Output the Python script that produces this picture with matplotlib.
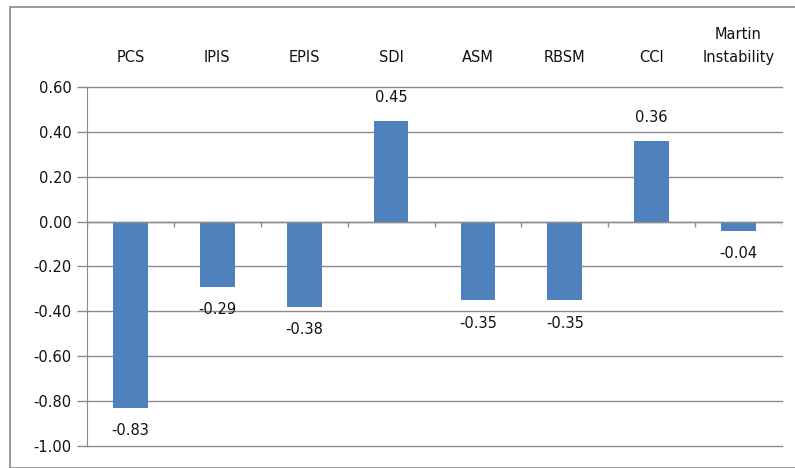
import matplotlib.pyplot as plt
from matplotlib.patches import Rectangle
import numpy as np

# metric names and their correlation values
categories = ['PCS', 'IPIS', 'EPIS', 'SDI', 'ASM', 'RBSM', 'CCI', 'Martin\nInstability']
values = [-0.83, -0.29, -0.38, 0.45, -0.35, -0.35, 0.36, -0.04]
yticks = [0.60, 0.40, 0.20, 0.00, -0.20, -0.40, -0.60, -0.80, -1.00]

plt.rcParams['font.family'] = ['DejaVu Sans']
grid_col = '#8c8c8c'
bar_col = '#4f81bd'

fig = plt.figure(figsize=(7.95, 4.68), dpi=100)
W, H = 795, 468
# outer chart border
fig.patches.append(Rectangle((10 / W, 0), 1, 1 - 7 / H, transform=fig.transFigure,
                             fill=False, edgecolor='#8a8a8a', linewidth=1.2))

ax = fig.add_axes([87 / W, 1 - 446 / H, (782 - 87) / W, (446 - 87) / H])
x = np.arange(len(categories))
ax.bar(x, values, width=0.40, color=bar_col, zorder=3)

ax.set_xlim(-0.5, len(categories) - 0.5)
ax.set_ylim(-1.0, 0.6)
ax.set_yticks(yticks)
ax.set_yticklabels(['%.2f' % v for v in yticks], fontsize=10.5, color='#111111')
ax.tick_params(axis='y', length=7, color=grid_col, width=1, pad=4)
ax.set_xticks([])
for v in yticks:
    ax.axhline(v, color=grid_col, linewidth=1, zorder=1, clip_on=False)

for s in ['top', 'right', 'bottom']:
    ax.spines[s].set_visible(False)
ax.spines['left'].set_color(grid_col)

# category axis sits at zero, with ticks between the categories
ax.axhline(0, color=grid_col, linewidth=1, zorder=4)
ax.vlines(np.arange(len(categories) + 1) - 0.5, -0.022, 0, color=grid_col, linewidth=1, zorder=4)

# category names above the plot area
for xi, name in zip(x, categories):
    ax.text(xi, 1 + 22 / 359, name, transform=ax.get_xaxis_transform(), ha='center', va='bottom',
            fontsize=10.5, linespacing=1.65, color='#111111')

# value labels
for xi, v in zip(x, values):
    off = 16.5 if v >= 0 else -16.5
    ax.annotate('%.2f' % v, (xi, v), xytext=(0, off), textcoords='offset points',
                ha='center', va='center', fontsize=10.5, color='#111111')

fig.savefig('out.png', dpi=100)
